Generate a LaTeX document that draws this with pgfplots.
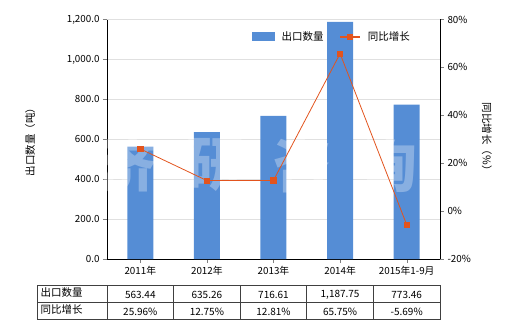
\documentclass[border=0pt]{standalone}
\usepackage{pgfplots}
\pgfplotsset{compat=1.18}
\usepackage{fontspec}
\setmainfont{Noto Sans CJK SC}
\definecolor{barblue}{RGB}{85,141,213}
\definecolor{lineor}{RGB}{226,84,30}
\definecolor{gridgray}{RGB}{224,224,224}
\begin{document}
\begin{tikzpicture}
\useasboundingbox (0,0) rectangle (520pt,330pt);
\pgfplotsset{every axis/.append style={
  scale only axis, width=333pt, height=239.5pt,
  at={(107pt,71pt)}, anchor=south west,
  xmin=-0.5, xmax=4.5,
  tick label style={font=\fontsize{9.8}{11}\selectfont},
  /pgf/number format/assume math mode=true,
}}
\begin{axis}[
  axis y line*=left, axis x line*=bottom,
  ymin=0, ymax=1200,
  ytick={0,200,...,1200},
  yticklabel style={/pgf/number format/fixed, /pgf/number format/fixed zerofill, /pgf/number format/precision=1, /pgf/number format/1000 sep={,}},
  xtick={0,1,2,3,4},
  xticklabels={2011年,2012年,2013年,2014年,2015年1-9月},
  tick align=outside, tick pos=left,
  major tick length=4pt,
  ymajorgrids, grid style={gridgray, line width=0.6pt},
  axis line style={black, line width=0.8pt},
  ylabel={出口数量（吨）},
  ylabel style={font=\fontsize{10.5}{12}\selectfont, anchor=center, at={(axis description cs:-0.231,0.5)}},
  legend style={draw=none, fill=none, at={(axis description cs:0.425,0.927)}, anchor=west, legend columns=2, font=\fontsize{10.5}{12}\selectfont, column sep=5pt},
  legend image code/.code={\fill[barblue] (0pt,-4.5pt) rectangle (23pt,4.5pt);},
]
\addplot[ybar, bar width=26pt, fill=barblue, draw=none] coordinates {(0,563.44) (1,635.26) (2,716.61) (3,1187.75) (4,773.46)};
\addlegendentry{出口数量\rule{9pt}{0pt}}
\addlegendimage{legend image code/.code={\draw[lineor, line width=1.2pt] (0pt,0pt) -- (20pt,0pt); \fill[lineor] (7pt,-2.5pt) rectangle (12pt,2.5pt);}}
\addlegendentry{同比增长}
\end{axis}
\node[white, opacity=0.3, font=\fontsize{58}{60}\selectfont\bfseries] at (127pt,165pt) {济};
\node[white, opacity=0.3, font=\fontsize{58}{60}\selectfont\bfseries] at (215pt,165pt) {研};
\node[white, opacity=0.3, font=\fontsize{58}{60}\selectfont\bfseries] at (302pt,165pt) {咨};
\node[white, opacity=0.3, font=\fontsize{58}{60}\selectfont\bfseries] at (388pt,165pt) {询};
\begin{axis}[
  axis y line*=right, axis x line=none,
  ymin=-20, ymax=80,
  ytick={-20,0,...,80},
  yticklabel={\pgfmathprintnumber{\tick}\%},
  tick align=outside,
  major tick length=4pt,
  axis line style={black, line width=0.8pt},
  ylabel={同比增长（\%）},
  ylabel style={font=\fontsize{10.5}{12}\selectfont, rotate=180, anchor=center, at={(axis description cs:1.141,0.5)}},
]
\addplot[lineor, line width=0.8pt, mark=square*, mark size=2.6pt, mark options={fill=lineor, draw=lineor}] coordinates {(0,25.96) (1,12.75) (2,12.81) (3,65.75) (4,-5.69)};
\end{axis}
% table
\draw[black!75, line width=0.7pt] (37pt,45pt) rectangle (440pt,11pt);
\draw[black!75, line width=0.7pt] (37pt,28pt) -- (440pt,28pt);
\foreach \x in {107,173.6,240.2,306.8,373.4} {\draw[black!75, line width=0.7pt] (\x pt,45pt) -- (\x pt,11pt);}
\node[anchor=west, font=\fontsize{10.5}{12}\selectfont] at (37pt,37.5pt) {出口数量};
\node[anchor=west, font=\fontsize{10.5}{12}\selectfont] at (37pt,20.5pt) {同比增长};
\foreach \x/\a/\b in {140.3/563.44/25.96\%, 206.9/635.26/12.75\%, 273.5/716.61/12.81\%, 340.1/{1,187.75}/65.75\%, 406.7/773.46/-5.69\%} {
  \node[font=\fontsize{10}{11}\selectfont] at (\x pt,35.5pt) {\a};
  \node[font=\fontsize{10}{11}\selectfont] at (\x pt,18.5pt) {\b};
}
\end{tikzpicture}
\end{document}
